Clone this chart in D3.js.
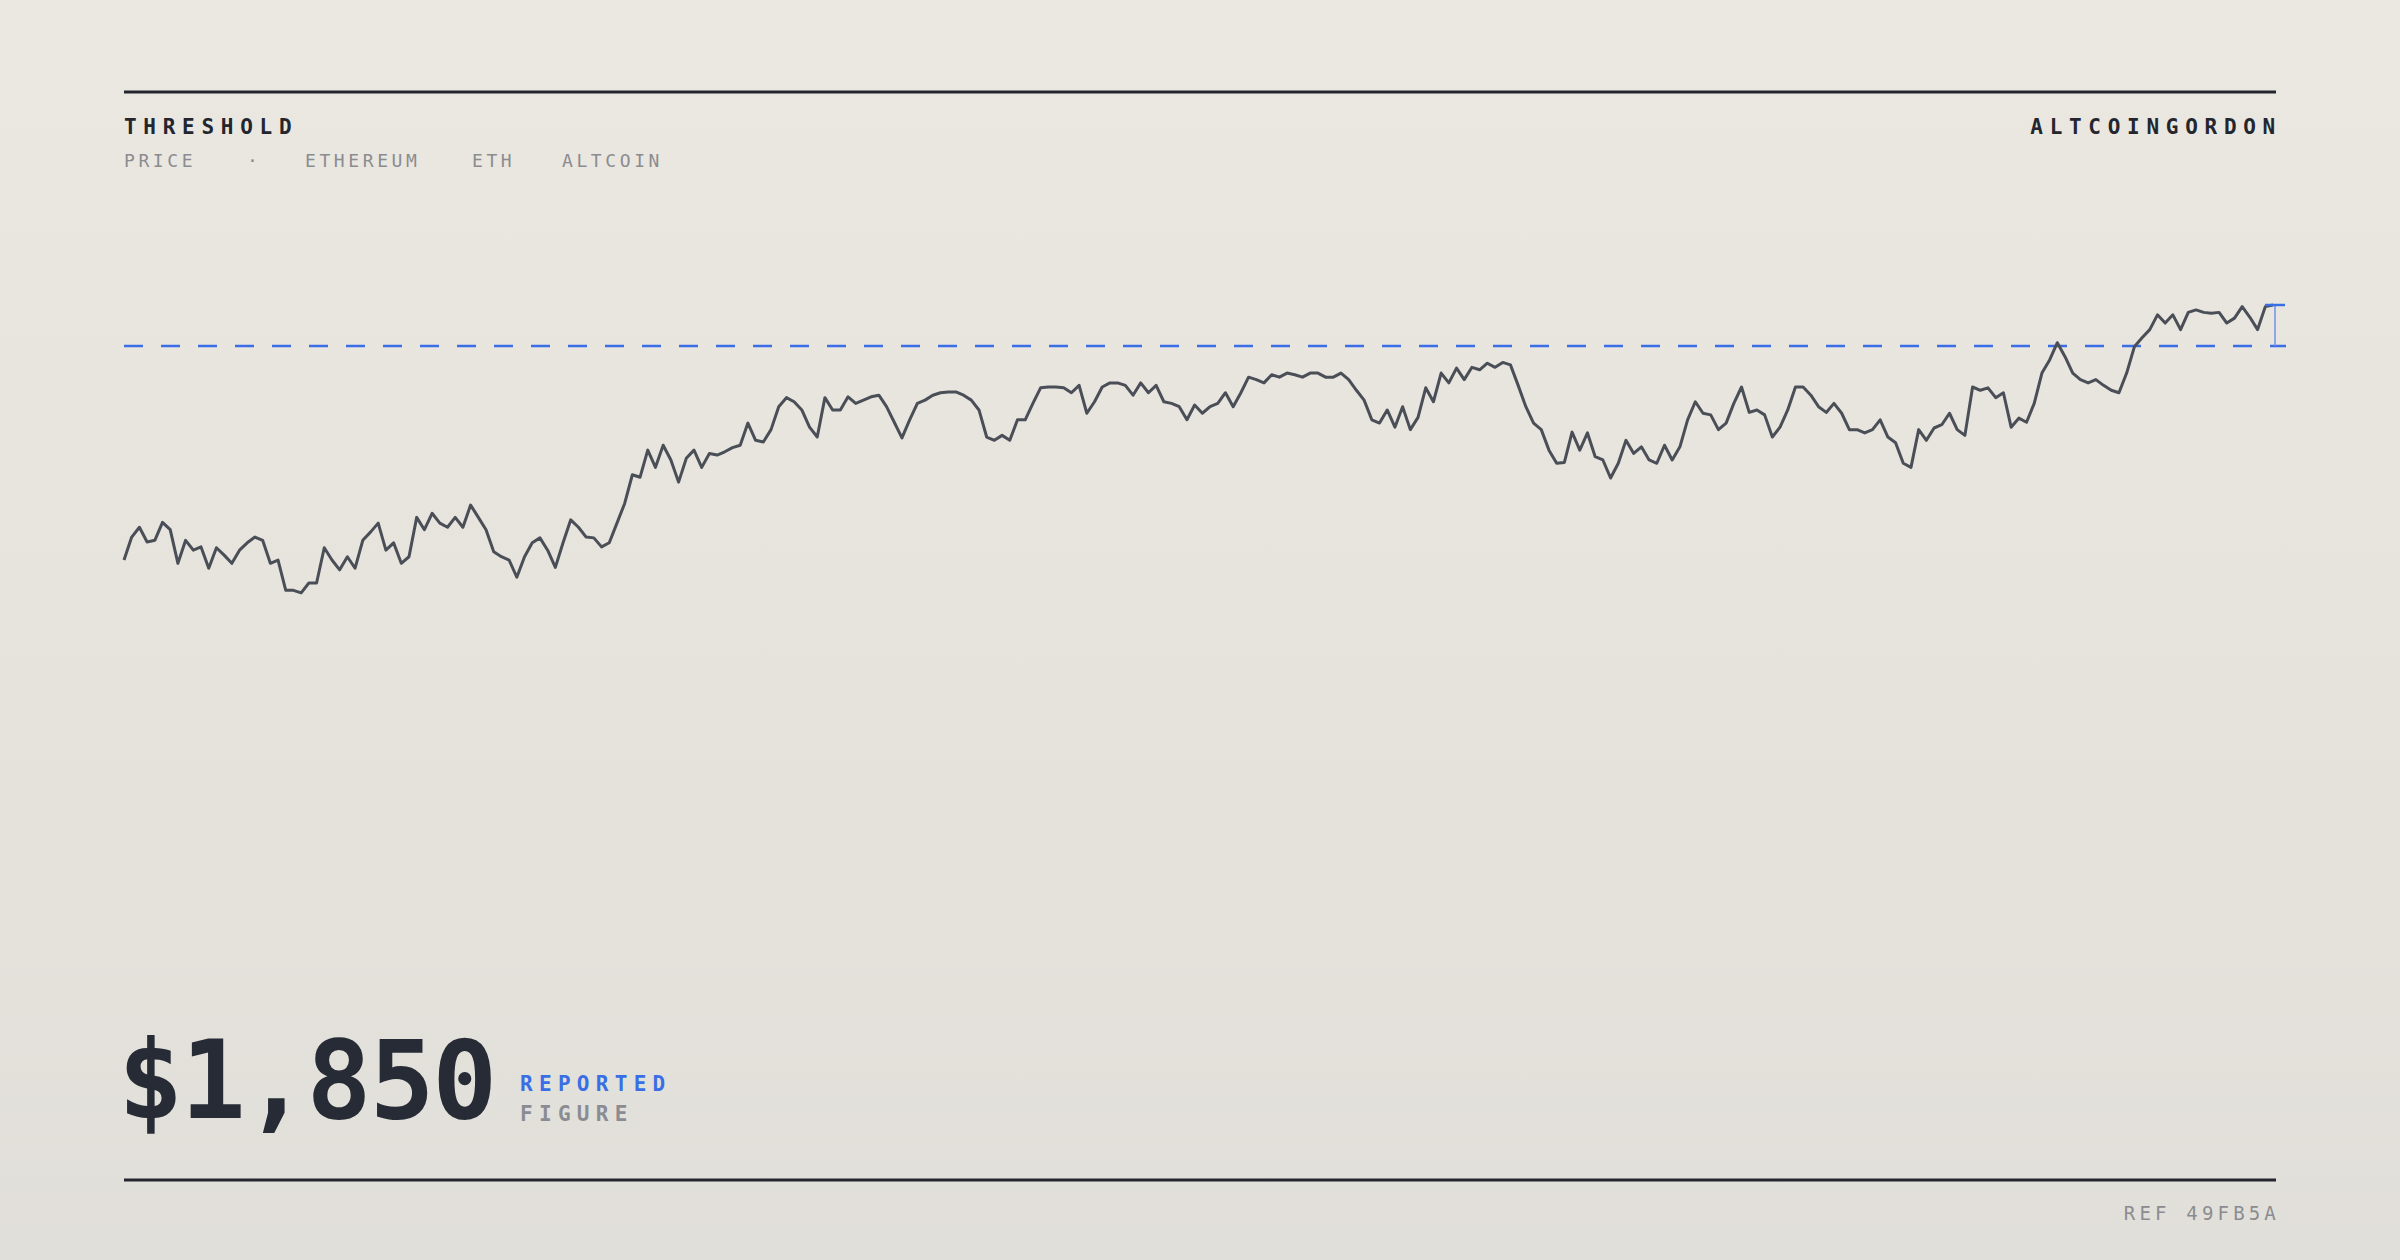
<!DOCTYPE html>
<html>
<head>
<meta charset="utf-8">
<script src="https://cdnjs.cloudflare.com/ajax/libs/d3/7.8.5/d3.min.js"></script>
<style>
  html, body { margin: 0; padding: 0; }
  body { width: 2400px; height: 1260px; overflow: hidden; }
  text { font-family: "DejaVu Sans Mono", "Liberation Mono", monospace; }
</style>
</head>
<body>
<script>
// ETH price series
var prices = [
  1539,1567,1579,1561,1563,1585,1576,1535,1563,1551,1555,1529,1554,1545,1535,1551,1560,1567,1563,1535,
  1539,1502,1502,1499,1511,1511,1554,1539,1527,1543,1529,1563,1573,1584,1551,1560,1535,1543,1591,1576,
  1596,1584,1579,1591,1579,1606,1591,1576,1549,1543,1539,1518,1543,1560,1566,1551,1530,1560,1588,1579,
  1567,1566,1555,1560,1584,1608,1643,1640,1673,1652,1679,1661,1634,1663,
  1673,1652,1669,1667,1671,1676,1679,1706,1685,1683,1698,1726,1737,1732,1722,1701,1689,1737,1722,
  1722,1738,1730,1734,1738,1740,1726,1707,1688,1710,1730,1734,1740,1743,1744,1744,1740,1734,1722,1689,
  1685,1691,1685,1710,1710,1730,1749,1750,1750,1749,1743,1752,1718,1732,1750,1755,1755,1752,1740,1755,
  1743,1752,1732,1730,1726,1710,
  1728,1718,1726,1730,1743,1726,1743,1762,1759,1755,1765,1762,1767,1765,1762,1767,1767,1762,1762,
  1767,1759,1746,1734,1710,1706,1722,1701,1726,1698,1713,1749,1732,1767,1755,1773,1759,1774,1771,1779,
  1774,1780,1777,1752,1726,1706,1698,1673,1657,1658,1695,1673,1694,1665,1661,1639,1657,1685,1669,1677,
  1661,1657,1679,1661,1677,1710,1732,1718,1716,1698,1706,1730,1750,1719,1722,1716,1689,1701,1722,
  1750,1750,1740,1726,1719,1730,1718,1698,1698,1694,1698,1710,1689,1682,1657,1652,1698,1685,1700,1704,
  1718,1698,1691,1750,1746,1749,1737,1743,1701,1712,1707,1730,1767,1783,1804,1787,1767,1759,1755,
  1759,1752,1746,1743,1767,1799,1810,1820,1838,1828,1838,1820,1841,1844,1841,1840,1841,1828,1834,1848,
  1835,1820,1848,1850
];
var threshold = 1800;
var lastValue = 1850;
var titleText = "THRESHOLD";
var brandText = "ALTCOINGORDON";
var tags = ["PRICE", "\u00b7", "ETHEREUM", "ETH", "ALTCOIN"];
var refText = "REF 49FB5A";

var W = 2400, H = 1260;
var left = 124, right = 2276;

var svg = d3.select("body").append("svg")
  .attr("width", W).attr("height", H);

var grad = svg.append("defs").append("linearGradient")
  .attr("id", "bg").attr("x1", 0).attr("y1", 0).attr("x2", 0).attr("y2", 1);
grad.append("stop").attr("offset", "0%").attr("stop-color", "#ebe8e1");
grad.append("stop").attr("offset", "100%").attr("stop-color", "#e1dfd9");
svg.append("rect").attr("width", W).attr("height", H).attr("fill", "url(#bg)");

// rules
svg.append("line").attr("x1", left).attr("x2", right).attr("y1", 92).attr("y2", 92)
  .attr("stroke", "#23262e").attr("stroke-width", 3);
svg.append("line").attr("x1", left).attr("x2", right).attr("y1", 1180).attr("y2", 1180)
  .attr("stroke", "#23262e").attr("stroke-width", 3);

// header
svg.append("text").attr("x", left).attr("y", 134)
  .attr("font-size", 21).attr("font-weight", "bold").attr("letter-spacing", "0.32em")
  .attr("fill", "#23262e").text(titleText);
svg.append("text").attr("x", right + 6).attr("y", 134).attr("text-anchor", "end")
  .attr("font-size", 21).attr("font-weight", "bold").attr("letter-spacing", "0.32em")
  .attr("fill", "#23262e").text(brandText);

var tagX = [124, 247, 305, 472, 562];
svg.append("g").selectAll("text").data(tags).enter().append("text")
  .attr("x", function(d, i) { return tagX[i]; }).attr("y", 167)
  .attr("font-size", 18).attr("letter-spacing", "0.2em")
  .attr("fill", "#8b8c90").text(function(d) { return d; });

// scales
var x = d3.scaleLinear().domain([0, prices.length - 1]).range([left, right - 3]);
var y = d3.scaleLinear().domain([1000, 2000]).range([1002, 182]);

// threshold
svg.append("line").attr("x1", left).attr("x2", right + 10)
  .attr("y1", y(threshold)).attr("y2", y(threshold))
  .attr("stroke", "#3a6ee6").attr("stroke-width", 2.5).attr("stroke-dasharray", "19 18");

// price line
var line = d3.line()
  .x(function(d, i) { return x(i); })
  .y(function(d) { return y(d); });
svg.append("path").datum(prices).attr("d", line)
  .attr("fill", "none").attr("stroke", "#4a4e57").attr("stroke-width", 3)
  .attr("stroke-linejoin", "round");

// gap marker
var ex = x(prices.length - 1) + 2;
svg.append("line").attr("x1", ex).attr("x2", ex)
  .attr("y1", y(lastValue)).attr("y2", y(threshold))
  .attr("stroke", "#6f93ea").attr("stroke-width", 1.5);
svg.append("line").attr("x1", ex - 10).attr("x2", ex + 10)
  .attr("y1", y(lastValue)).attr("y2", y(lastValue))
  .attr("stroke", "#3a6ee6").attr("stroke-width", 2.5);

// big figure
svg.append("text").attr("x", 118).attr("y", 1118)
  .attr("font-size", 108).attr("font-weight", "bold").attr("letter-spacing", "-0.02em")
  .attr("fill", "#272b35").text("$" + d3.format(",")(lastValue));
svg.append("text").attr("x", 520).attr("y", 1091)
  .attr("font-size", 21).attr("font-weight", "bold").attr("letter-spacing", "0.3em")
  .attr("fill", "#3a6ee6").text("REPORTED");
svg.append("text").attr("x", 520).attr("y", 1121)
  .attr("font-size", 21).attr("font-weight", "bold").attr("letter-spacing", "0.3em")
  .attr("fill", "#8a8c93").text("FIGURE");

svg.append("text").attr("x", right + 4).attr("y", 1220).attr("text-anchor", "end")
  .attr("font-size", 19).attr("letter-spacing", "0.22em")
  .attr("fill", "#8b8c90").text(refText);
</script>
</body>
</html>
